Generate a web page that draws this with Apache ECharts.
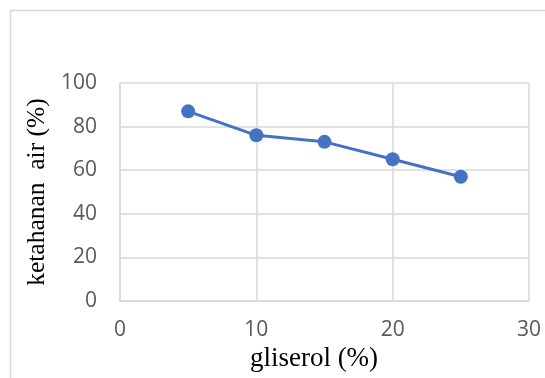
<!DOCTYPE html>
<html>
<head>
<meta charset="utf-8">
<script src="https://cdn.jsdelivr.net/npm/echarts@6/dist/echarts.min.js"></script>
<style>
  html, body { margin: 0; padding: 0; background: #fff; }
  #chart { width: 545px; height: 378px; }
</style>
</head>
<body>
<div id="chart"></div>
<script>
// Glycerol concentration (%) vs. water resistance (%)
const glycerol = [5, 10, 15, 20, 25];
const waterResistance = [87, 76, 73, 65, 57];
const xTicks = { min: 0, max: 30, step: 10 };
const yTicks = { min: 0, max: 100, step: 20 };

const chart = echarts.init(document.getElementById('chart'), null, { renderer: 'canvas' });

const gridColor = '#d9d9d9';
const tickFont = { color: '#595959', fontSize: 21, fontFamily: 'Open Sans, Liberation Sans, sans-serif' };
const serif = 'Liberation Serif, serif';

chart.setOption({
  backgroundColor: '#fff',
  animation: false,
  graphic: [{
    type: 'rect',
    shape: { x: 10.5, y: 10.5, width: 600, height: 400 },
    style: { fill: 'none', stroke: '#d9d9d9', lineWidth: 1.5 },
    silent: true
  }],
  grid: { left: 120, right: 16, top: 83, bottom: 77, containLabel: false },
  xAxis: {
    type: 'value',
    min: xTicks.min, max: xTicks.max, interval: xTicks.step,
    name: 'gliserol (%)',
    nameLocation: 'middle',
    nameGap: 39,
    nameTextStyle: { color: '#000', fontSize: 27, fontFamily: serif, padding: [0, 21, 0, 0] },
    axisLine: { show: true, lineStyle: { color: gridColor, width: 1.5 } },
    axisTick: { show: false },
    axisLabel: Object.assign({}, tickFont, { margin: 19 }),
    splitLine: { show: true, lineStyle: { color: gridColor, width: 1.5 } }
  },
  yAxis: {
    type: 'value',
    min: yTicks.min, max: yTicks.max, interval: yTicks.step,
    name: 'ketahanan  air (%)',
    nameLocation: 'middle',
    nameGap: 58,
    nameRotate: 90,
    nameTextStyle: { color: '#000', fontSize: 25.5, fontFamily: serif },
    axisLine: { show: true, lineStyle: { color: gridColor, width: 1.5 } },
    axisTick: { show: false },
    axisLabel: Object.assign({}, tickFont, { margin: 23 }),
    splitLine: { show: true, lineStyle: { color: gridColor, width: 1.5 } }
  },
  series: [{
    type: 'line',
    data: glycerol.map((g, i) => [g, waterResistance[i]]),
    symbol: 'circle',
    symbolSize: 14,
    lineStyle: { color: '#4472c4', width: 3 },
    itemStyle: { color: '#4472c4' }
  }]
});
</script>
</body>
</html>
